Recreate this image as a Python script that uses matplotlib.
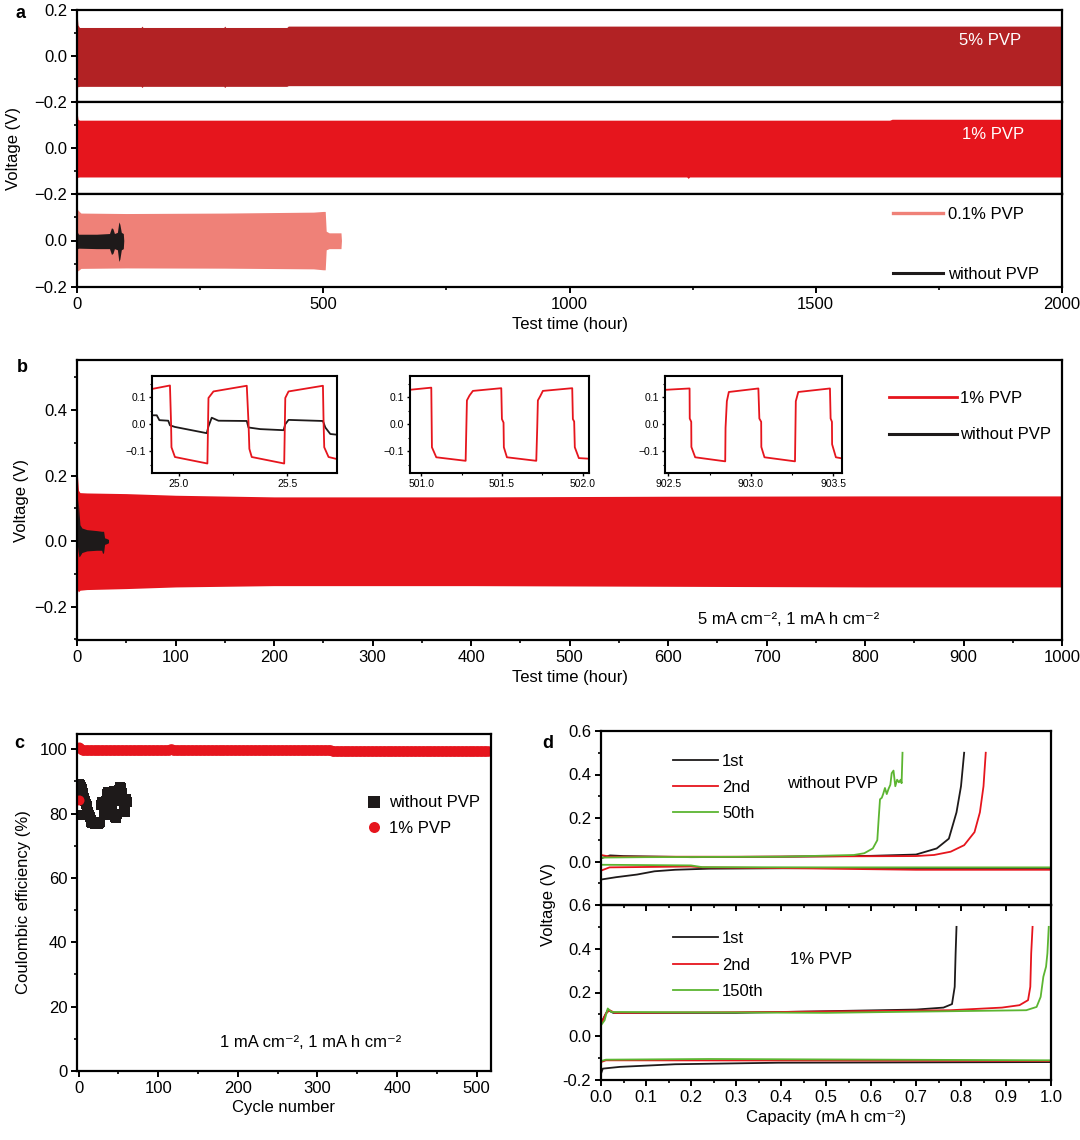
import matplotlib
matplotlib.use("Agg")
import matplotlib.pyplot as plt
from matplotlib.ticker import MultipleLocator, FormatStrFormatter
from matplotlib.lines import Line2D

plt.rcParams['font.family'] = ['Liberation Sans', 'DejaVu Sans']
plt.rcParams['font.size'] = 12
plt.rcParams['axes.linewidth'] = 1.6
plt.rcParams['xtick.major.width'] = 1.4
plt.rcParams['ytick.major.width'] = 1.4
plt.rcParams['xtick.minor.width'] = 1.2
plt.rcParams['ytick.minor.width'] = 1.2
plt.rcParams['xtick.major.size'] = 4
plt.rcParams['ytick.major.size'] = 4
plt.rcParams['xtick.minor.size'] = 2.5
plt.rcParams['ytick.minor.size'] = 2.5
plt.rcParams['xtick.major.pad'] = 3
plt.rcParams['ytick.major.pad'] = 3

DARKRED = '#B22224'
RED = '#E6151D'
SALMON = '#EF8178'
BLACK = '#1E1A1A'
GREEN = '#5CB531'

# ---- panel a: envelopes of the voltage traces (V) vs time (h)
a5_t = [0, 2, 5, 130, 132, 134, 298, 300, 302, 426, 429, 2000]
a5_hi = [0.19, 0.135, 0.124, 0.124, 0.13, 0.124, 0.124, 0.13, 0.124, 0.124, 0.13, 0.13]
a5_lo = [-0.13, -0.134, -0.132, -0.132, -0.137, -0.132, -0.132, -0.137, -0.132, -0.132, -0.129, -0.129]

a1_t = [0, 2, 5, 100, 500, 1000, 1238, 1241, 1244, 1650, 1655, 2000]
a1_hi = [0.16, 0.125, 0.121, 0.121, 0.121, 0.121, 0.121, 0.121, 0.121, 0.121, 0.125, 0.125]
a1_lo = [-0.13, -0.127, -0.126, -0.126, -0.126, -0.126, -0.126, -0.132, -0.126, -0.126, -0.126, -0.126]

a01_t = [0, 2, 8, 100, 300, 480, 500, 504, 506, 512, 536, 537]
a01_hi = [0.14, 0.13, 0.118, 0.116, 0.118, 0.122, 0.125, 0.125, 0.04, 0.033, 0.033, 0.0]
a01_lo = [-0.13, -0.13, -0.12, -0.118, -0.119, -0.122, -0.126, -0.126, -0.04, -0.035, -0.035, 0.0]

a0_t = [0, 1, 3, 40, 66, 70, 73, 76, 82, 85, 87, 90, 94, 95]
a0_hi = [0.07, 0.035, 0.027, 0.027, 0.03, 0.055, 0.05, 0.03, 0.035, 0.08, 0.07, 0.035, 0.03, 0.0]
a0_lo = [-0.04, -0.035, -0.033, -0.035, -0.035, -0.06, -0.055, -0.035, -0.04, -0.09, -0.08, -0.04, -0.035, 0.0]

# ---- panel b: envelopes
b1_t = [0, 0.5, 1.5, 3, 10, 50, 100, 200, 400, 600, 800, 1000]
b1_hi = [0.32, 0.2, 0.155, 0.148, 0.147, 0.145, 0.14, 0.135, 0.135, 0.137, 0.138, 0.138]
b1_lo = [-0.1, -0.15, -0.155, -0.15, -0.148, -0.145, -0.14, -0.136, -0.136, -0.138, -0.14, -0.14]

b0_t = [0, 1, 2, 3, 5, 10, 20, 25, 26, 27, 28, 30, 32]
b0_hi = [0.0, 0.13, 0.09, 0.05, 0.04, 0.035, 0.032, 0.03, 0.03, 0.03, 0.01, 0.008, 0.005]
b0_lo = [0.0, -0.03, -0.048, -0.045, -0.035, -0.03, -0.028, -0.028, -0.038, -0.035, -0.01, -0.008, -0.005]

# ---- panel b insets: single cycles
in1_t = [24.874, 24.958, 24.963, 24.965, 24.981, 25.131, 25.136, 25.159, 25.313, 25.321, 25.325,
         25.336, 25.486, 25.491, 25.506, 25.665, 25.668, 25.671, 25.691, 25.722]
in1_red = [0.13, 0.143, 0.006, -0.085, -0.121, -0.145, 0.097, 0.121, 0.142, 0.006, -0.091,
           -0.121, -0.145, 0.097, 0.121, 0.142, 0.006, -0.085, -0.121, -0.127]
in1_bt = [24.874, 24.897, 24.909, 24.95, 24.958, 24.981, 25.128, 25.136, 25.151, 25.182, 25.313,
          25.321, 25.375, 25.483, 25.491, 25.506, 25.665, 25.676, 25.699, 25.722]
in1_black = [0.033, 0.033, 0.015, 0.013, -0.004, -0.01, -0.033, -0.008, 0.024, 0.013, 0.012,
             -0.012, -0.018, -0.022, 0.0, 0.016, 0.012, -0.012, -0.036, -0.038]

in2_t = [500.927, 501.062, 501.066, 501.093, 501.275, 501.283, 501.299, 501.32, 501.496, 501.5,
         501.51, 501.512, 501.531, 501.713, 501.719, 501.723, 501.738, 501.754, 501.936, 501.94,
         501.948, 501.952, 501.977, 502.033]
in2_red = [0.127, 0.135, -0.085, -0.122, -0.135, 0.088, 0.106, 0.123, 0.133, 0.019,
           0.006, -0.085, -0.122, -0.135, -0.012, 0.088, 0.104, 0.123, 0.133, 0.019,
           0.01, -0.085, -0.125, -0.127]

in3_t = [902.482, 902.629, 902.63, 902.639, 902.64, 902.663, 902.845, 902.847, 902.855, 902.867,
         903.046, 903.052, 903.063, 903.064, 903.083, 903.268, 903.273, 903.288, 903.48, 903.484,
         903.492, 903.493, 903.516, 903.561]
in3_red = [0.127, 0.132, 0.021, 0.009, -0.084, -0.122, -0.137, -0.013, 0.085, 0.119,
           0.132, 0.021, 0.009, -0.084, -0.122, -0.137, 0.085, 0.119, 0.132, 0.021,
           0.009, -0.074, -0.122, -0.127]

# ---- panel c: coulombic efficiency (%)
ce_without = [79.5, 89.3, 89.0, 88.3, 87.5, 86.5, 85.7, 84.8, 84.0, 83.1, 82.3, 81.5, 80.5,
              79.6, 78.8, 78.0, 77.5, 77.0, 76.9, 77.2, 77.0, 76.8, 77.1, 77.4, 77.0, 76.6,
              76.9, 77.4, 82.6, 83.5, 82.8, 83.1, 80.2, 79.6, 81.6, 84.0, 86.2, 86.7, 85.9,
              86.5, 81.6, 80.8, 82.5, 86.2, 87.0, 86.2, 79.0, 78.5, 80.0, 84.0, 86.3, 87.4,
              88.3, 88.0, 86.5, 85.7, 84.2, 82.0, 80.5, 83.6, 84.4, 83.6]
cyc_without = list(range(len(ce_without)))
# flat band, piece by piece
ce_pvp = [84.2, 100.6, 100.3, 100.0, 99.8] + [99.8] * 110 + [100.0] * 3 + [99.7] * 200 + [99.55] * 198
cyc_pvp = list(range(len(ce_pvp)))

# ---- panel d: voltage profiles
# without PVP
wo1_cq = [0, 0.02, 0.05, 0.2, 0.4, 0.6, 0.7, 0.746, 0.773, 0.79, 0.8, 0.807]
wo1_cv = [0.015, 0.028, 0.025, 0.02, 0.022, 0.026, 0.032, 0.06, 0.105, 0.226, 0.346, 0.5]
wo1_dq = [0, 0.034, 0.08, 0.119, 0.165, 0.24, 0.5, 1.0]
wo1_dv = [-0.083, -0.072, -0.06, -0.045, -0.038, -0.033, -0.03, -0.03]
wo2_cq = [0, 0.02, 0.3, 0.7, 0.74, 0.777, 0.807, 0.83, 0.842, 0.85, 0.855]
wo2_cv = [0.03, 0.022, 0.022, 0.025, 0.03, 0.045, 0.075, 0.135, 0.226, 0.346, 0.5]
wo2_dq = [0, 0.019, 0.2, 0.225, 0.39, 0.7, 1.0]
wo2_dv = [-0.042, -0.027, -0.023, -0.027, -0.03, -0.038, -0.038]
wo50_cq = [0, 0.1, 0.4, 0.562, 0.585, 0.604, 0.614, 0.617, 0.62, 0.624, 0.627, 0.631, 0.635,
           0.639, 0.643, 0.646, 0.65, 0.654, 0.658, 0.662, 0.666, 0.668, 0.67]
wo50_cv = [0.018, 0.02, 0.022, 0.03, 0.038, 0.06, 0.098, 0.195, 0.286, 0.293, 0.31, 0.338, 0.31,
           0.334, 0.353, 0.406, 0.418, 0.346, 0.376, 0.364, 0.376, 0.36, 0.5]
wo50_dq = [0, 0.2, 0.225, 0.5, 1.0]
wo50_dv = [-0.015, -0.018, -0.026, -0.027, -0.027]
# 1% PVP
p1_cq = [0, 0.015, 0.027, 0.3, 0.7, 0.761, 0.78, 0.786, 0.788, 0.79]
p1_cv = [0.06, 0.12, 0.107, 0.107, 0.122, 0.131, 0.147, 0.226, 0.377, 0.5]
p1_dq = [0, 0.004, 0.042, 0.165, 0.394, 1.0]
p1_dv = [-0.171, -0.148, -0.14, -0.128, -0.121, -0.118]
p2_cq = [0, 0.011, 0.019, 0.031, 0.394, 0.777, 0.891, 0.93, 0.949, 0.954, 0.956, 0.959]
p2_cv = [0.055, 0.104, 0.119, 0.107, 0.111, 0.119, 0.131, 0.142, 0.165, 0.226, 0.379, 0.5]
p2_dq = [0, 0.011, 0.5, 1.0]
p2_dv = [-0.118, -0.11, -0.111, -0.113]
p150_cq = [0, 0.008, 0.015, 0.023, 0.5, 0.945, 0.968, 0.977, 0.983, 0.989, 0.992, 0.995]
p150_cv = [0.05, 0.073, 0.127, 0.111, 0.107, 0.119, 0.134, 0.18, 0.272, 0.318, 0.379, 0.5]
p150_dq = [0, 0.011, 0.24, 1.0]
p150_dv = [-0.113, -0.107, -0.104, -0.11]

W, H = 1080, 1140


def box(l, t, r, b):
    return [l / W, 1 - b / H, (r - l) / W, (b - t) / H]


fig = plt.figure(figsize=(10.8, 11.4), dpi=100)

# ================= panel a
a_top = fig.add_axes(box(77, 10, 1062, 102))
a_mid = fig.add_axes(box(77, 102, 1062, 194))
a_bot = fig.add_axes(box(77, 194, 1062, 287))
a_top.fill_between(a5_t, a5_lo, a5_hi, color=DARKRED, lw=0)
a_mid.fill_between(a1_t, a1_lo, a1_hi, color=RED, lw=0)
a_bot.fill_between(a01_t, a01_lo, a01_hi, color=SALMON, lw=0)
a_bot.fill_between(a0_t, a0_lo, a0_hi, color=BLACK, lw=0)
for ax in (a_top, a_mid, a_bot):
    ax.set_xlim(0, 2000)
    ax.set_ylim(-0.2, 0.2)
    ax.yaxis.set_minor_locator(MultipleLocator(0.1))
    ax.xaxis.set_major_locator(MultipleLocator(500))
    ax.xaxis.set_minor_locator(MultipleLocator(250))
    ax.tick_params(which='both', direction='out', top=False, right=False)
a_top.set_yticks([-0.2, 0.0, 0.2])
a_mid.set_yticks([-0.2, 0.0])
a_bot.set_yticks([-0.2, 0.0])
for ax in (a_top, a_mid):
    ax.tick_params(axis='x', which='both', bottom=False, labelbottom=False)
a_bot.set_xlabel('Test time (hour)', labelpad=4)
a_top.text(0.927, 0.67, '5% PVP', color='white', transform=a_top.transAxes, ha='center', va='center')
a_mid.text(0.93, 0.65, '1% PVP', color='white', transform=a_mid.transAxes, ha='center', va='center')
a_bot.legend([Line2D([], [], color=SALMON, lw=2.4), Line2D([], [], color=BLACK, lw=2.2)],
             ['0.1% PVP', 'without PVP'], loc='upper left', bbox_to_anchor=(0.828, 0.86),
             frameon=False, borderpad=0, borderaxespad=0, handlelength=3.0,
             handletextpad=0.35, labelspacing=2.7, fontsize=12)
fig.text(14 / W, 1 - 148 / H, 'Voltage (V)', rotation=90, ha='center', va='center', fontsize=12)
fig.text(20 / W, 1 - 13 / H, 'a', fontweight='bold', fontsize=13, ha='center', va='center')

# ================= panel b
axb = fig.add_axes(box(77, 360, 1062, 640))
axb.fill_between(b1_t, b1_lo, b1_hi, color=RED, lw=0)
axb.fill_between(b0_t, b0_lo, b0_hi, color=BLACK, lw=0)
axb.set_xlim(0, 1000)
axb.set_ylim(-0.302, 0.553)
axb.xaxis.set_major_locator(MultipleLocator(100))
axb.xaxis.set_minor_locator(MultipleLocator(50))
axb.set_yticks([-0.2, 0.0, 0.2, 0.4])
axb.yaxis.set_minor_locator(MultipleLocator(0.1))
axb.tick_params(which='both', direction='out', top=False, right=False)
axb.set_xlabel('Test time (hour)', labelpad=4)
axb.set_ylabel('Voltage (V)', labelpad=4)
axb.text(0.722, 0.072, '5 mA cm\u207b\u00b2, 1 mA h cm\u207b\u00b2', transform=axb.transAxes,
         ha='center', va='center', fontsize=12)
axb.legend([Line2D([], [], color=RED, lw=2.0), Line2D([], [], color=BLACK, lw=2.2)],
           ['1% PVP', 'without PVP'], loc='upper left', bbox_to_anchor=(0.824, 0.89),
           frameon=False, borderpad=0, borderaxespad=0, handlelength=4.1,
           handletextpad=0.2, labelspacing=1.3, fontsize=12)
fig.text(22 / W, 1 - 367 / H, 'b', fontweight='bold', fontsize=13, ha='center', va='center')

ins = [
    (box(152, 376, 337, 473), (24.875, 25.73)),
    (box(410, 376, 589, 473), (500.93, 502.04)),
    (box(665, 376, 842, 473), (902.48, 903.553)),
]
inset_axes = []
for rect, xl in ins:
    ia = fig.add_axes(rect)
    ia.set_xlim(*xl)
    ia.set_ylim(-0.18, 0.178)
    ia.set_yticks([-0.1, 0.0, 0.1])
    ia.yaxis.set_minor_locator(MultipleLocator(0.05))
    ia.xaxis.set_major_locator(MultipleLocator(0.5))
    ia.xaxis.set_minor_locator(MultipleLocator(0.25))
    ia.xaxis.set_major_formatter(FormatStrFormatter('%.1f'))
    ia.tick_params(which='both', direction='out', labelsize=7.5, top=False, right=False, pad=2)
    ia.tick_params(which='major', length=2.5, width=1.0)
    ia.tick_params(which='minor', length=1.5, width=0.8)
    for s in ia.spines.values():
        s.set_linewidth(1.5)
    inset_axes.append(ia)
inset_axes[0].plot(in1_bt, in1_black, color=BLACK, lw=1.3)
inset_axes[0].plot(in1_t, in1_red, color=RED, lw=1.3)
inset_axes[1].plot(in2_t, in2_red, color=RED, lw=1.3)
inset_axes[2].plot(in3_t, in3_red, color=RED, lw=1.3)

# ================= panel c
axc = fig.add_axes(box(77, 734, 491, 1071))
axc.plot(cyc_without, ce_without, 's', color=BLACK, ms=7.4, mew=0, label='without PVP')
axc.plot(cyc_pvp, ce_pvp, 'o', color=RED, ms=7.2, mew=0, label='1% PVP')
axc.set_xlim(-2, 518)
axc.set_ylim(0, 104.7)
axc.xaxis.set_major_locator(MultipleLocator(100))
axc.xaxis.set_minor_locator(MultipleLocator(50))
axc.yaxis.set_major_locator(MultipleLocator(20))
axc.yaxis.set_minor_locator(MultipleLocator(10))
axc.tick_params(which='both', direction='out', top=False, right=False)
axc.set_xlabel('Cycle number', labelpad=3)
axc.set_ylabel('Coulombic efficiency (%)', labelpad=6)
axc.legend(loc='upper left', bbox_to_anchor=(0.705, 0.818), frameon=False, borderpad=0,
           borderaxespad=0, handlelength=0.6, handletextpad=0.6, labelspacing=0.62,
           fontsize=12, markerscale=1.1)
axc.text(0.565, 0.085, '1 mA cm\u207b\u00b2, 1 mA h cm\u207b\u00b2', transform=axc.transAxes,
         ha='center', va='center', fontsize=12)
fig.text(19 / W, 1 - 743 / H, 'c', fontweight='bold', fontsize=13, ha='center', va='center')

# ================= panel d
d_top = fig.add_axes(box(601, 731, 1051, 905))
d_bot = fig.add_axes(box(601, 905, 1051, 1080))
d_top.set_facecolor('none')
d_bot.set_facecolor('none')
lw = 1.3
d_top.plot(wo1_cq, wo1_cv, color=BLACK, lw=lw, label='1st')
d_top.plot(wo2_cq, wo2_cv, color=RED, lw=lw, label='2nd')
d_top.plot(wo50_cq, wo50_cv, color=GREEN, lw=lw, label='50th')
d_top.plot(wo1_dq, wo1_dv, color=BLACK, lw=lw)
d_top.plot(wo2_dq, wo2_dv, color=RED, lw=lw)
d_top.plot(wo50_dq, wo50_dv, color=GREEN, lw=lw)
d_bot.plot(p1_cq, p1_cv, color=BLACK, lw=lw, label='1st')
d_bot.plot(p2_cq, p2_cv, color=RED, lw=lw, label='2nd')
d_bot.plot(p150_cq, p150_cv, color=GREEN, lw=lw, label='150th')
d_bot.plot(p1_dq, p1_dv, color=BLACK, lw=lw)
d_bot.plot(p2_dq, p2_dv, color=RED, lw=lw)
d_bot.plot(p150_dq, p150_dv, color=GREEN, lw=lw)
for ax in (d_top, d_bot):
    ax.set_xlim(0, 1.0)
    ax.set_ylim(-0.2, 0.6)
    ax.xaxis.set_major_locator(MultipleLocator(0.1))
    ax.xaxis.set_minor_locator(MultipleLocator(0.05))
    ax.yaxis.set_minor_locator(MultipleLocator(0.1))
    ax.xaxis.set_major_formatter(FormatStrFormatter('%.1f'))
    ax.yaxis.set_major_formatter(FormatStrFormatter('%.1f'))
    ax.tick_params(which='both', direction='out', top=False, right=False)
d_top.set_yticks([0.0, 0.2, 0.4, 0.6])
d_bot.set_yticks([-0.2, 0.0, 0.2, 0.4, 0.6])
d_top.tick_params(axis='x', labelbottom=False)
d_bot.set_xlabel('Capacity (mA h cm\u207b\u00b2)', labelpad=4)
d_top.legend(loc='upper left', bbox_to_anchor=(0.16, 0.87), frameon=False, borderpad=0,
             borderaxespad=0, handlelength=2.7, handletextpad=0.24, labelspacing=0.68, fontsize=12)
d_bot.legend(loc='upper left', bbox_to_anchor=(0.16, 0.85), frameon=False, borderpad=0,
             borderaxespad=0, handlelength=2.7, handletextpad=0.24, labelspacing=0.68, fontsize=12)
d_top.text(0.413, 0.70, 'without PVP', transform=d_top.transAxes, ha='left', va='center', fontsize=12)
d_bot.text(0.42, 0.69, '1% PVP', transform=d_bot.transAxes, ha='left', va='center', fontsize=12)
fig.text(548 / W, 1 - 905 / H, 'Voltage (V)', rotation=90, ha='center', va='center', fontsize=12)
fig.text(548 / W, 1 - 744 / H, 'd', fontweight='bold', fontsize=13, ha='center', va='center')

fig.savefig('out.png', dpi=100)
